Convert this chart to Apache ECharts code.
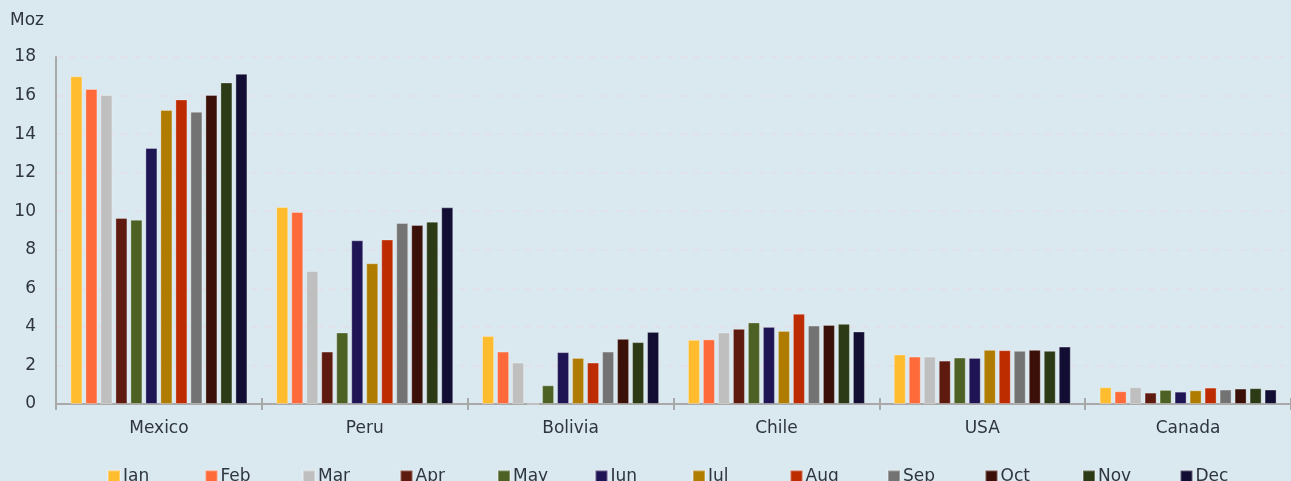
<!DOCTYPE html>
<html>
<head>
<meta charset="utf-8">
<script src="https://cdn.jsdelivr.net/npm/echarts@6/dist/echarts.min.js"></script>
<style>
  html, body { margin: 0; padding: 0; background: #dae8ef; }
  #chart { width: 1291px; height: 481px; }
</style>
</head>
<body>
<div id="chart"></div>
<script>
// Silver production by country and month (Moz)
const countries = ['Mexico', 'Peru', 'Bolivia', 'Chile', 'USA', 'Canada'];
const months = ['Jan', 'Feb', 'Mar', 'Apr', 'May', 'Jun', 'Jul', 'Aug', 'Sep', 'Oct', 'Nov', 'Dec'];
const yTicks = { min: 0, max: 18, interval: 2 };

// one array per month, values in country order
const jan = [17.0, 10.22, 3.53, 3.33, 2.57, 0.87];
const feb = [16.34, 9.96, 2.72, 3.35, 2.46, 0.66];
const mar = [16.03, 6.9, 2.15, 3.71, 2.46, 0.87];
const apr = [9.65, 2.72, 0, 3.9, 2.25, 0.59];
const may = [9.56, 3.71, 0.97, 4.23, 2.41, 0.73];
const jun = [13.28, 8.49, 2.69, 4.0, 2.39, 0.64];
const jul = [15.25, 7.3, 2.39, 3.79, 2.81, 0.71];
const aug = [15.8, 8.53, 2.15, 4.68, 2.79, 0.85];
const sep = [15.16, 9.39, 2.72, 4.07, 2.76, 0.75];
const oct = [16.03, 9.29, 3.38, 4.1, 2.81, 0.8];
const nov = [16.68, 9.46, 3.21, 4.16, 2.76, 0.82];
const dec = [17.13, 10.2, 3.74, 3.76, 2.98, 0.75];

const monthValues = [jan, feb, mar, apr, may, jun, jul, aug, sep, oct, nov, dec];
const monthColors = ['#ffbc2f', '#ff6a3a', '#bfbfbf', '#5e1a0e', '#4d6125', '#201554',
                     '#b07c00', '#bd2b00', '#737373', '#3b1008', '#2c3a16', '#120e33'];

const textColor = '#2f3540';
const fontFamily = "'DejaVu Sans', 'Liberation Sans', Arial, sans-serif";
const fontSize = 17;

// legend entries sit on a fixed pitch, one legend component per month
const legendLeft = 107;
const legendPitch = 97.5;
const legends = months.map((m, i) => ({
  data: [m],
  left: legendLeft + i * legendPitch,
  top: 468,
  itemWidth: 12,
  itemHeight: 12,
  itemGap: 0,
  icon: 'rect',
  padding: 0,
  textStyle: { color: textColor, fontSize: fontSize, fontFamily: fontFamily, padding: [0, 0, 0, -2] }
}));

const chart = echarts.init(document.getElementById('chart'), null, { renderer: 'canvas' });

chart.setOption({
  backgroundColor: '#dae8ef',
  animation: false,
  textStyle: { fontFamily: fontFamily },
  color: monthColors,
  grid: { left: 56, right: -1, top: 57, bottom: 77, containLabel: false },
  legend: legends,
  xAxis: [{
    type: 'category',
    data: countries,
    axisLine: { lineStyle: { color: '#a9a9a9', width: 2 } },
    axisTick: { show: true, length: 6, lineStyle: { color: '#a9a9a9', width: 2 } },
    axisLabel: { color: textColor, fontSize: fontSize, margin: 16, fontFamily: fontFamily },
    splitLine: { show: false }
  }, {
    // upper half of the category separators, which cross the baseline
    type: 'category',
    data: countries,
    position: 'bottom',
    axisLine: { show: false },
    axisTick: { show: true, inside: true, length: 6, lineStyle: { color: '#a9a9a9', width: 2 } },
    axisLabel: { show: false },
    splitLine: { show: false }
  }],
  yAxis: {
    type: 'value',
    min: yTicks.min,
    max: yTicks.max,
    interval: yTicks.interval,
    name: 'Moz',
    nameLocation: 'end',
    nameGap: 28,
    nameTextStyle: { color: textColor, fontSize: fontSize, align: 'left', padding: [0, 0, 0, -46], fontFamily: fontFamily },
    axisLine: { show: true, lineStyle: { color: '#a9a9a9', width: 2 } },
    axisTick: { show: false },
    axisLabel: { color: textColor, fontSize: fontSize, margin: 20, fontFamily: fontFamily },
    splitLine: { show: true, lineStyle: { color: '#e3e0e8', width: 1.5, type: [7, 6] } }
  },
  series: months.map((m, i) => ({
    name: m,
    type: 'bar',
    data: monthValues[i],
    barWidth: 12,
    barGap: '25%',
    itemStyle: { color: monthColors[i], borderColor: 'rgba(255,255,255,0.3)', borderWidth: 1 }
  }))
});
</script>
</body>
</html>
